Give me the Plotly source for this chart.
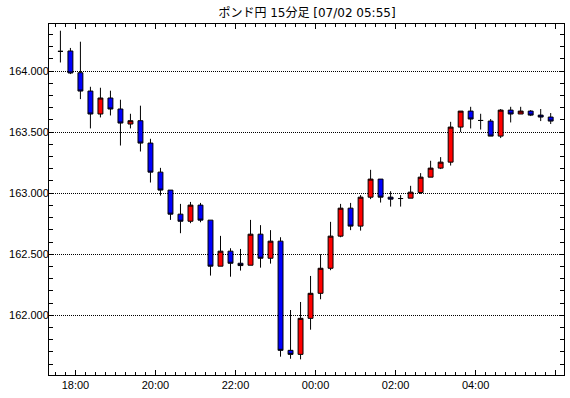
import pandas as pd
import plotly.graph_objects as go

title_text = "ポンド円 15分足 [07/02 05:55]"

# candle centers: 15-minute bars starting 2022-07-01 17:30
times = list(pd.date_range("2022-07-01 17:37:30", periods=50, freq="15min"))

opens = [164.161, 164.164, 163.986, 163.836, 163.648, 163.779, 163.689, 163.566, 163.593, 163.410,
         163.172, 163.025, 162.828, 162.770, 162.902, 162.779, 162.402, 162.525, 162.426, 162.410,
         162.664, 162.467, 162.607, 161.713, 161.680, 161.975, 162.180, 162.385, 162.648, 162.877,
         162.730, 162.967, 163.115, 162.967, 162.956, 162.959, 163.005, 163.131, 163.205, 163.254,
         163.541, 163.672, 163.595, 163.590, 163.467, 163.680, 163.648, 163.672, 163.639, 163.623]
highs = [164.330, 164.189, 164.240, 163.871, 163.863, 163.839, 163.765, 163.650, 163.716, 163.445,
         163.207, 163.025, 162.912, 162.928, 162.920, 162.779, 162.650, 162.549, 162.543, 162.781,
         162.738, 162.697, 162.639, 162.043, 162.109, 162.322, 162.500, 162.765, 162.912, 162.920,
         162.984, 163.191, 163.115, 163.016, 162.984, 163.060, 163.164, 163.265, 163.295, 163.584,
         163.672, 163.707, 163.650, 163.607, 163.689, 163.707, 163.707, 163.680, 163.689, 163.656]
lows = [164.070, 163.975, 163.770, 163.530, 163.620, 163.636, 163.390, 163.530, 163.341, 163.087,
        162.980, 162.781, 162.672, 162.754, 162.762, 162.325, 162.402, 162.316, 162.366, 162.410,
        162.390, 162.423, 161.661, 161.644, 161.639, 161.882, 162.131, 162.369, 162.639, 162.697,
        162.693, 162.951, 162.923, 162.890, 162.890, 162.959, 162.994, 163.131, 163.197, 163.226,
        163.500, 163.530, 163.521, 163.467, 163.451, 163.579, 163.648, 163.631, 163.590, 163.566]
closes = [164.161, 163.984, 163.836, 163.648, 163.779, 163.689, 163.574, 163.593, 163.410, 163.172,
          163.025, 162.828, 162.770, 162.902, 162.779, 162.402, 162.525, 162.426, 162.407, 162.664,
          162.467, 162.607, 161.713, 161.680, 161.975, 162.180, 162.385, 162.648, 162.877, 162.730,
          162.967, 163.115, 162.967, 162.951, 162.956, 163.008, 163.131, 163.205, 163.254, 163.541,
          163.672, 163.607, 163.595, 163.467, 163.680, 163.648, 163.672, 163.639, 163.623, 163.590]

x_tick_vals = ["2022-07-01 18:00", "2022-07-01 20:00", "2022-07-01 22:00",
               "2022-07-02 00:00", "2022-07-02 02:00", "2022-07-02 04:00", "2022-07-02 06:00"]
x_tick_text = ["18:00", "20:00", "22:00", "00:00", "02:00", "04:00", ""]

y_range = [161.511, 164.385]
x_range = ["2022-07-01 17:20:24", "2022-07-02 06:12:27"]

fig = go.Figure(go.Candlestick(
    x=times, open=opens, high=highs, low=lows, close=closes,
    increasing=dict(fillcolor="#FF0000", line=dict(color="black", width=1)),
    decreasing=dict(fillcolor="#0000FF", line=dict(color="black", width=1)),
    whiskerwidth=0, showlegend=False, hoverinfo="skip",
))

fig.update_layout(
    width=570, height=398,
    margin=dict(l=49, r=6, t=24, b=23, autoexpand=False),
    paper_bgcolor="white", plot_bgcolor="white",
    font=dict(family="Liberation Sans, Arial, sans-serif", size=11, color="black"),
    title=dict(text=title_text, x=307 / 570, xanchor="center", xref="container",
               y=1 - 13 / 398, yanchor="middle", yref="container",
               font=dict(family="DejaVu Sans, Noto Sans CJK JP", size=12, color="black")),
    boxgap=0.3,
)

fig.update_xaxes(
    type="date", range=x_range, rangeslider_visible=False, automargin=False,
    showline=True, linecolor="black", linewidth=1, mirror="ticks",
    showgrid=False, zeroline=False,
    tickmode="array", tickvals=x_tick_vals, ticktext=x_tick_text,
    ticks="inside", ticklen=5, tickcolor="black", tickwidth=1,
    minor=dict(dtick=15 * 60 * 1000, tick0="2022-07-01 18:00", ticks="inside",
               ticklen=3, tickcolor="black", showgrid=False),
)
fig.update_yaxes(
    range=y_range, automargin=False,
    showline=True, linecolor="black", linewidth=1, mirror="ticks",
    showgrid=True, gridcolor="black", gridwidth=1, griddash="1px,1px",
    zeroline=False, tick0=162, dtick=0.5, tickformat=".3f",
    ticks="inside", ticklen=4, tickcolor="black", tickwidth=1, ticklabelstandoff=-3,
    minor=dict(dtick=0.1, ticks="inside", ticklen=4, tickcolor="black", showgrid=False),
)

fig.write_html("out.html", config={"displayModeBar": False},
               post_script="document.body.style.margin='0px';")
